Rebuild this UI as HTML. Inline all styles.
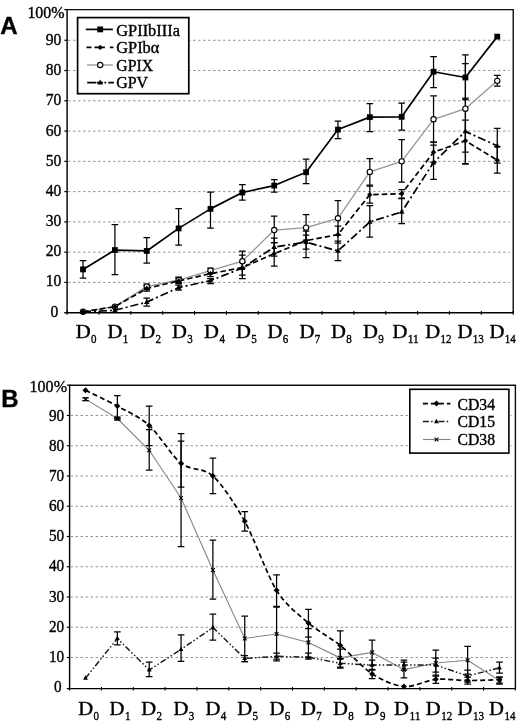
<!DOCTYPE html>
<html><head><meta charset="utf-8"><title>Figure</title>
<style>
html,body{margin:0;padding:0;background:#fff;}
svg{display:block;}
text{stroke:#000;stroke-width:0.38px;}
</style></head>
<body>
<svg width="520" height="723" viewBox="0 0 520 723">
<defs><filter id="soft" x="0" y="0" width="100%" height="100%"><feGaussianBlur stdDeviation="0.32"/></filter></defs>
<rect width="520" height="723" fill="#fff"/>
<g filter="url(#soft)">
<path d="M68.1 282.43H509.5" stroke="#8f8f8f" stroke-width="1" stroke-dasharray="2.4 2.6" fill="none"/>
<path d="M68.1 252.16H509.5" stroke="#8f8f8f" stroke-width="1" stroke-dasharray="2.4 2.6" fill="none"/>
<path d="M68.1 221.89H509.5" stroke="#8f8f8f" stroke-width="1" stroke-dasharray="2.4 2.6" fill="none"/>
<path d="M68.1 191.62H509.5" stroke="#8f8f8f" stroke-width="1" stroke-dasharray="2.4 2.6" fill="none"/>
<path d="M68.1 161.35H509.5" stroke="#8f8f8f" stroke-width="1" stroke-dasharray="2.4 2.6" fill="none"/>
<path d="M68.1 131.08H509.5" stroke="#8f8f8f" stroke-width="1" stroke-dasharray="2.4 2.6" fill="none"/>
<path d="M68.1 100.81H509.5" stroke="#8f8f8f" stroke-width="1" stroke-dasharray="2.4 2.6" fill="none"/>
<path d="M68.1 70.54H509.5" stroke="#8f8f8f" stroke-width="1" stroke-dasharray="2.4 2.6" fill="none"/>
<path d="M68.1 40.27H509.5" stroke="#8f8f8f" stroke-width="1" stroke-dasharray="2.4 2.6" fill="none"/>
<path d="M83.03 311.79L114.9 306.65L146.76 286.67L178.62 280.01L210.49 270.62L242.35 261.24L274.22 230.06L306.08 227.64L337.95 218.26L369.81 171.94L401.68 161.35L433.54 119.27L465.4 108.68L497.27 80.83" stroke="#959595" stroke-width="1.3" fill="none" stroke-linejoin="round"/>
<path d="M83.03 312.09L114.9 310.28L146.76 302.11L178.62 287.58L210.49 280.61L242.35 268.05L274.22 247.01L306.08 242.17L337.95 250.95L369.81 221.89L401.68 211.9L433.54 162.56L465.4 131.38L497.27 145.91" stroke="#000" stroke-width="1.7" stroke-dasharray="8 3 2 3" fill="none" stroke-linejoin="round"/>
<path d="M83.03 311.79L114.9 306.65L146.76 288.48L178.62 280.92L210.49 273.65L242.35 267.6L274.22 253.67L306.08 240.66L337.95 234.6L369.81 194.65L401.68 193.74L433.54 152.27L465.4 140.77L497.27 160.14" stroke="#000" stroke-width="1.7" stroke-dasharray="5.5 3" fill="none" stroke-linejoin="round"/>
<path d="M83.03 269.41L114.9 250.04L146.76 250.95L178.62 228.4L210.49 208.87L242.35 192.53L274.22 185.57L306.08 172.25L337.95 129.57L369.81 117.16L401.68 116.85L433.54 71.75L465.4 77.5L497.27 36.64" stroke="#000" stroke-width="1.7" fill="none" stroke-linejoin="round"/>
<path d="M146.76 284V289.5M143.46 284H150.06M143.46 289.5H150.06" stroke="#000" stroke-width="1.25" fill="none"/>
<path d="M178.62 277V282.5M175.32 277H181.93M175.32 282.5H181.93" stroke="#000" stroke-width="1.25" fill="none"/>
<path d="M210.49 268V273.5M207.19 268H213.79M207.19 273.5H213.79" stroke="#000" stroke-width="1.25" fill="none"/>
<path d="M242.35 255V268M239.05 255H245.65M239.05 268H245.65" stroke="#000" stroke-width="1.25" fill="none"/>
<path d="M274.22 216.2V242.5M270.92 216.2H277.52M270.92 242.5H277.52" stroke="#000" stroke-width="1.25" fill="none"/>
<path d="M306.08 214.5V240M302.78 214.5H309.38M302.78 240H309.38" stroke="#000" stroke-width="1.25" fill="none"/>
<path d="M337.95 200.7V235M334.65 200.7H341.25M334.65 235H341.25" stroke="#000" stroke-width="1.25" fill="none"/>
<path d="M369.81 158.7V185M366.51 158.7H373.11M366.51 185H373.11" stroke="#000" stroke-width="1.25" fill="none"/>
<path d="M401.68 139.5V182M398.38 139.5H404.98M398.38 182H404.98" stroke="#000" stroke-width="1.25" fill="none"/>
<path d="M433.54 95.9V142M430.24 95.9H436.84M430.24 142H436.84" stroke="#000" stroke-width="1.25" fill="none"/>
<path d="M465.4 63.6V152M462.1 63.6H468.7M462.1 152H468.7" stroke="#000" stroke-width="1.25" fill="none"/>
<path d="M497.27 75.3V86M493.97 75.3H500.57M493.97 86H500.57" stroke="#000" stroke-width="1.25" fill="none"/>
<path d="M146.76 298V306M143.46 298H150.06M143.46 306H150.06" stroke="#000" stroke-width="1.25" fill="none"/>
<path d="M178.62 285V290M175.32 285H181.93M175.32 290H181.93" stroke="#000" stroke-width="1.25" fill="none"/>
<path d="M210.49 278.5V283.5M207.19 278.5H213.79M207.19 283.5H213.79" stroke="#000" stroke-width="1.25" fill="none"/>
<path d="M242.35 262V275M239.05 262H245.65M239.05 275H245.65" stroke="#000" stroke-width="1.25" fill="none"/>
<path d="M274.22 238V256M270.92 238H277.52M270.92 256H277.52" stroke="#000" stroke-width="1.25" fill="none"/>
<path d="M306.08 235V249M302.78 235H309.38M302.78 249H309.38" stroke="#000" stroke-width="1.25" fill="none"/>
<path d="M337.95 241.2V260.7M334.65 241.2H341.25M334.65 260.7H341.25" stroke="#000" stroke-width="1.25" fill="none"/>
<path d="M369.81 205.5V237M366.51 205.5H373.11M366.51 237H373.11" stroke="#000" stroke-width="1.25" fill="none"/>
<path d="M401.68 198.7V223.7M398.38 198.7H404.98M398.38 223.7H404.98" stroke="#000" stroke-width="1.25" fill="none"/>
<path d="M433.54 145V179.3M430.24 145H436.84M430.24 179.3H436.84" stroke="#000" stroke-width="1.25" fill="none"/>
<path d="M465.4 98V163.9M462.1 98H468.7M462.1 163.9H468.7" stroke="#000" stroke-width="1.25" fill="none"/>
<path d="M497.27 128.3V163M493.97 128.3H500.57M493.97 163H500.57" stroke="#000" stroke-width="1.25" fill="none"/>
<path d="M146.76 285.5V291M143.46 285.5H150.06M143.46 291H150.06" stroke="#000" stroke-width="1.25" fill="none"/>
<path d="M178.62 278V283.5M175.32 278H181.93M175.32 283.5H181.93" stroke="#000" stroke-width="1.25" fill="none"/>
<path d="M210.49 271V276.5M207.19 271H213.79M207.19 276.5H213.79" stroke="#000" stroke-width="1.25" fill="none"/>
<path d="M242.35 251.2V278.7M239.05 251.2H245.65M239.05 278.7H245.65" stroke="#000" stroke-width="1.25" fill="none"/>
<path d="M274.22 242.5V266.2M270.92 242.5H277.52M270.92 266.2H277.52" stroke="#000" stroke-width="1.25" fill="none"/>
<path d="M306.08 231V257.5M302.78 231H309.38M302.78 257.5H309.38" stroke="#000" stroke-width="1.25" fill="none"/>
<path d="M337.95 226V243M334.65 226H341.25M334.65 243H341.25" stroke="#000" stroke-width="1.25" fill="none"/>
<path d="M369.81 186.2V203M366.51 186.2H373.11M366.51 203H373.11" stroke="#000" stroke-width="1.25" fill="none"/>
<path d="M401.68 189.5V198M398.38 189.5H404.98M398.38 198H404.98" stroke="#000" stroke-width="1.25" fill="none"/>
<path d="M433.54 142V162M430.24 142H436.84M430.24 162H436.84" stroke="#000" stroke-width="1.25" fill="none"/>
<path d="M465.4 120V163.9M462.1 120H468.7M462.1 163.9H468.7" stroke="#000" stroke-width="1.25" fill="none"/>
<path d="M497.27 146.5V173.1M493.97 146.5H500.57M493.97 173.1H500.57" stroke="#000" stroke-width="1.25" fill="none"/>
<path d="M83.03 260.5V278.2M79.73 260.5H86.33M79.73 278.2H86.33" stroke="#000" stroke-width="1.25" fill="none"/>
<path d="M114.9 224.5V274.5M111.6 224.5H118.2M111.6 274.5H118.2" stroke="#000" stroke-width="1.25" fill="none"/>
<path d="M146.76 237.5V263M143.46 237.5H150.06M143.46 263H150.06" stroke="#000" stroke-width="1.25" fill="none"/>
<path d="M178.62 208.7V245M175.32 208.7H181.93M175.32 245H181.93" stroke="#000" stroke-width="1.25" fill="none"/>
<path d="M210.49 192V228M207.19 192H213.79M207.19 228H213.79" stroke="#000" stroke-width="1.25" fill="none"/>
<path d="M242.35 184.5V200M239.05 184.5H245.65M239.05 200H245.65" stroke="#000" stroke-width="1.25" fill="none"/>
<path d="M274.22 179.5V192M270.92 179.5H277.52M270.92 192H277.52" stroke="#000" stroke-width="1.25" fill="none"/>
<path d="M306.08 159V183.7M302.78 159H309.38M302.78 183.7H309.38" stroke="#000" stroke-width="1.25" fill="none"/>
<path d="M337.95 121.2V138.7M334.65 121.2H341.25M334.65 138.7H341.25" stroke="#000" stroke-width="1.25" fill="none"/>
<path d="M369.81 103.7V131.7M366.51 103.7H373.11M366.51 131.7H373.11" stroke="#000" stroke-width="1.25" fill="none"/>
<path d="M401.68 103V130M398.38 103H404.98M398.38 130H404.98" stroke="#000" stroke-width="1.25" fill="none"/>
<path d="M433.54 56.6V87.7M430.24 56.6H436.84M430.24 87.7H436.84" stroke="#000" stroke-width="1.25" fill="none"/>
<path d="M465.4 54.9V99.7M462.1 54.9H468.7M462.1 99.7H468.7" stroke="#000" stroke-width="1.25" fill="none"/>
<circle cx="83.03" cy="311.79" r="2.65" fill="#fff" stroke="#000" stroke-width="1.1"/>
<circle cx="114.9" cy="306.65" r="2.65" fill="#fff" stroke="#000" stroke-width="1.1"/>
<circle cx="146.76" cy="286.67" r="2.65" fill="#fff" stroke="#000" stroke-width="1.1"/>
<circle cx="178.62" cy="280.01" r="2.65" fill="#fff" stroke="#000" stroke-width="1.1"/>
<circle cx="210.49" cy="270.62" r="2.65" fill="#fff" stroke="#000" stroke-width="1.1"/>
<circle cx="242.35" cy="261.24" r="2.65" fill="#fff" stroke="#000" stroke-width="1.1"/>
<circle cx="274.22" cy="230.06" r="2.65" fill="#fff" stroke="#000" stroke-width="1.1"/>
<circle cx="306.08" cy="227.64" r="2.65" fill="#fff" stroke="#000" stroke-width="1.1"/>
<circle cx="337.95" cy="218.26" r="2.65" fill="#fff" stroke="#000" stroke-width="1.1"/>
<circle cx="369.81" cy="171.94" r="2.65" fill="#fff" stroke="#000" stroke-width="1.1"/>
<circle cx="401.68" cy="161.35" r="2.65" fill="#fff" stroke="#000" stroke-width="1.1"/>
<circle cx="433.54" cy="119.27" r="2.65" fill="#fff" stroke="#000" stroke-width="1.1"/>
<circle cx="465.4" cy="108.68" r="2.65" fill="#fff" stroke="#000" stroke-width="1.1"/>
<circle cx="497.27" cy="80.83" r="2.65" fill="#fff" stroke="#000" stroke-width="1.1"/>
<path d="M83.03 308.87L85.83 314H80.23Z" fill="#000"/>
<path d="M114.9 307.06L117.7 312.18H112.1Z" fill="#000"/>
<path d="M146.76 298.89L149.56 304.01H143.96Z" fill="#000"/>
<path d="M178.62 284.36L181.43 289.48H175.82Z" fill="#000"/>
<path d="M210.49 277.39L213.29 282.52H207.69Z" fill="#000"/>
<path d="M242.35 264.83L245.15 269.96H239.55Z" fill="#000"/>
<path d="M274.22 243.79L277.02 248.92H271.42Z" fill="#000"/>
<path d="M306.08 238.95L308.88 244.07H303.28Z" fill="#000"/>
<path d="M337.95 247.73L340.75 252.85H335.15Z" fill="#000"/>
<path d="M369.81 218.67L372.61 223.79H367.01Z" fill="#000"/>
<path d="M401.68 208.68L404.48 213.8H398.88Z" fill="#000"/>
<path d="M433.54 159.34L436.34 164.46H430.74Z" fill="#000"/>
<path d="M465.4 128.16L468.2 133.29H462.6Z" fill="#000"/>
<path d="M497.27 142.69L500.07 147.82H494.47Z" fill="#000"/>
<path d="M83.03 309.09L85.73 311.79L83.03 314.49L80.33 311.79Z" fill="#000"/>
<path d="M114.9 303.95L117.6 306.65L114.9 309.35L112.2 306.65Z" fill="#000"/>
<path d="M146.76 285.78L149.46 288.48L146.76 291.18L144.06 288.48Z" fill="#000"/>
<path d="M178.62 278.22L181.32 280.92L178.62 283.62L175.93 280.92Z" fill="#000"/>
<path d="M210.49 270.95L213.19 273.65L210.49 276.35L207.79 273.65Z" fill="#000"/>
<path d="M242.35 264.9L245.05 267.6L242.35 270.3L239.65 267.6Z" fill="#000"/>
<path d="M274.22 250.97L276.92 253.67L274.22 256.37L271.52 253.67Z" fill="#000"/>
<path d="M306.08 237.96L308.78 240.66L306.08 243.36L303.38 240.66Z" fill="#000"/>
<path d="M337.95 231.9L340.65 234.6L337.95 237.3L335.25 234.6Z" fill="#000"/>
<path d="M369.81 191.95L372.51 194.65L369.81 197.35L367.11 194.65Z" fill="#000"/>
<path d="M401.68 191.04L404.38 193.74L401.68 196.44L398.98 193.74Z" fill="#000"/>
<path d="M433.54 149.57L436.24 152.27L433.54 154.97L430.84 152.27Z" fill="#000"/>
<path d="M465.4 138.07L468.1 140.77L465.4 143.47L462.7 140.77Z" fill="#000"/>
<path d="M497.27 157.44L499.97 160.14L497.27 162.84L494.57 160.14Z" fill="#000"/>
<rect x="80.13" y="266.51" width="5.8" height="5.8" fill="#000"/>
<rect x="112" y="247.14" width="5.8" height="5.8" fill="#000"/>
<rect x="143.86" y="248.05" width="5.8" height="5.8" fill="#000"/>
<rect x="175.72" y="225.5" width="5.8" height="5.8" fill="#000"/>
<rect x="207.59" y="205.97" width="5.8" height="5.8" fill="#000"/>
<rect x="239.45" y="189.63" width="5.8" height="5.8" fill="#000"/>
<rect x="271.32" y="182.67" width="5.8" height="5.8" fill="#000"/>
<rect x="303.18" y="169.35" width="5.8" height="5.8" fill="#000"/>
<rect x="335.05" y="126.67" width="5.8" height="5.8" fill="#000"/>
<rect x="366.91" y="114.26" width="5.8" height="5.8" fill="#000"/>
<rect x="398.78" y="113.95" width="5.8" height="5.8" fill="#000"/>
<rect x="430.64" y="68.85" width="5.8" height="5.8" fill="#000"/>
<rect x="462.5" y="74.6" width="5.8" height="5.8" fill="#000"/>
<rect x="494.37" y="33.74" width="5.8" height="5.8" fill="#000"/>
<path d="M67.1 9.6H513.2V312.7" stroke="#111" stroke-width="1.4" fill="none"/>
<path d="M67.1 9V313.4" stroke="#000" stroke-width="1.45" fill="none"/>
<path d="M64.3 312.7H513.8" stroke="#000" stroke-width="1.4" fill="none"/>
<path d="M64.3 282.43H67.1" stroke="#000" stroke-width="1.2"/>
<path d="M64.3 252.16H67.1" stroke="#000" stroke-width="1.2"/>
<path d="M64.3 221.89H67.1" stroke="#000" stroke-width="1.2"/>
<path d="M64.3 191.62H67.1" stroke="#000" stroke-width="1.2"/>
<path d="M64.3 161.35H67.1" stroke="#000" stroke-width="1.2"/>
<path d="M64.3 131.08H67.1" stroke="#000" stroke-width="1.2"/>
<path d="M64.3 100.81H67.1" stroke="#000" stroke-width="1.2"/>
<path d="M64.3 70.54H67.1" stroke="#000" stroke-width="1.2"/>
<path d="M64.3 40.27H67.1" stroke="#000" stroke-width="1.2"/>
<path d="M64.3 9.6H67.1" stroke="#000" stroke-width="1.2"/>
<path d="M67.1 311.1V314.7" stroke="#000" stroke-width="1.1"/>
<path d="M98.96 311.1V314.7" stroke="#000" stroke-width="1.1"/>
<path d="M130.83 311.1V314.7" stroke="#000" stroke-width="1.1"/>
<path d="M162.69 311.1V314.7" stroke="#000" stroke-width="1.1"/>
<path d="M194.56 311.1V314.7" stroke="#000" stroke-width="1.1"/>
<path d="M226.42 311.1V314.7" stroke="#000" stroke-width="1.1"/>
<path d="M258.29 311.1V314.7" stroke="#000" stroke-width="1.1"/>
<path d="M290.15 311.1V314.7" stroke="#000" stroke-width="1.1"/>
<path d="M322.01 311.1V314.7" stroke="#000" stroke-width="1.1"/>
<path d="M353.88 311.1V314.7" stroke="#000" stroke-width="1.1"/>
<path d="M385.74 311.1V314.7" stroke="#000" stroke-width="1.1"/>
<path d="M417.61 311.1V314.7" stroke="#000" stroke-width="1.1"/>
<path d="M449.47 311.1V314.7" stroke="#000" stroke-width="1.1"/>
<path d="M481.34 311.1V314.7" stroke="#000" stroke-width="1.1"/>
<path d="M513.2 311.1V314.7" stroke="#000" stroke-width="1.1"/>
<rect x="77.6" y="17.6" width="111.2" height="76.1" fill="#fff" stroke="#000" stroke-width="1.7"/>
<path d="M85.8 29.4H112.9" stroke="#000" stroke-width="1.7" fill="none"/>
<rect x="97.3" y="26.5" width="5.8" height="5.8" fill="#000"/>
<text x="116.3" y="35.5" font-family='"Liberation Serif", serif' font-size="16" textLength="63.6" lengthAdjust="spacingAndGlyphs">GPIIbIIIa</text>
<path d="M86.5 47.4H91.5M94.4 47.4H104.9M109.9 47.4H113.4" stroke="#000" stroke-width="1.7" fill="none"/>
<path d="M100.2 44.7L102.9 47.4L100.2 50.1L97.5 47.4Z" fill="#000"/>
<text x="116.3" y="53.2" font-family='"Liberation Serif", serif' font-size="16" textLength="43" lengthAdjust="spacingAndGlyphs">GPIbα</text>
<path d="M87 65.0H112.9" stroke="#959595" stroke-width="1.3" fill="none"/>
<circle cx="100.2" cy="65" r="2.65" fill="#fff" stroke="#000" stroke-width="1.1"/>
<text x="116.3" y="70.8" font-family='"Liberation Serif", serif' font-size="16" textLength="36.8" lengthAdjust="spacingAndGlyphs">GPIX</text>
<path d="M87.2 82.6H96.4M97 82.6H103M104.4 82.6H106.1M108.4 82.6H113.9" stroke="#000" stroke-width="1.7" fill="none"/>
<path d="M100.2 79.38L103 84.5H97.4Z" fill="#000"/>
<text x="116.3" y="88" font-family='"Liberation Serif", serif' font-size="16" textLength="31.8" lengthAdjust="spacingAndGlyphs">GPV</text>
<text x="58.2" y="316.54" text-anchor="end" font-family='"Liberation Serif", serif' font-size="16.5" textLength="7.8" lengthAdjust="spacingAndGlyphs">0</text>
<text x="61.3" y="286.38" text-anchor="end" font-family='"Liberation Serif", serif' font-size="16.5" textLength="15.6" lengthAdjust="spacingAndGlyphs">10</text>
<text x="61.3" y="256.22" text-anchor="end" font-family='"Liberation Serif", serif' font-size="16.5" textLength="15.6" lengthAdjust="spacingAndGlyphs">20</text>
<text x="61.3" y="226.06" text-anchor="end" font-family='"Liberation Serif", serif' font-size="16.5" textLength="15.6" lengthAdjust="spacingAndGlyphs">30</text>
<text x="61.3" y="195.9" text-anchor="end" font-family='"Liberation Serif", serif' font-size="16.5" textLength="15.6" lengthAdjust="spacingAndGlyphs">40</text>
<text x="61.3" y="165.74" text-anchor="end" font-family='"Liberation Serif", serif' font-size="16.5" textLength="15.6" lengthAdjust="spacingAndGlyphs">50</text>
<text x="61.3" y="135.58" text-anchor="end" font-family='"Liberation Serif", serif' font-size="16.5" textLength="15.6" lengthAdjust="spacingAndGlyphs">60</text>
<text x="61.3" y="105.42" text-anchor="end" font-family='"Liberation Serif", serif' font-size="16.5" textLength="15.6" lengthAdjust="spacingAndGlyphs">70</text>
<text x="61.3" y="75.26" text-anchor="end" font-family='"Liberation Serif", serif' font-size="16.5" textLength="15.6" lengthAdjust="spacingAndGlyphs">80</text>
<text x="61.3" y="45.1" text-anchor="end" font-family='"Liberation Serif", serif' font-size="16.5" textLength="15.6" lengthAdjust="spacingAndGlyphs">90</text>
<text x="64.6" y="18.1" text-anchor="end" font-family='"Liberation Serif", serif' font-size="16.5" textLength="37.2" lengthAdjust="spacingAndGlyphs">100%</text>
<text x="75.75" y="338.3" font-family='"Liberation Serif", serif' font-size="18.5" textLength="14.9" lengthAdjust="spacingAndGlyphs">D</text>
<text x="91.05" y="343.2" font-family='"Liberation Serif", serif' font-size="12.6" textLength="5.5" lengthAdjust="spacingAndGlyphs">0</text>
<text x="107.5" y="338.3" font-family='"Liberation Serif", serif' font-size="18.5" textLength="14.9" lengthAdjust="spacingAndGlyphs">D</text>
<text x="122.8" y="343.2" font-family='"Liberation Serif", serif' font-size="12.6" textLength="5.5" lengthAdjust="spacingAndGlyphs">1</text>
<text x="140.25" y="338.3" font-family='"Liberation Serif", serif' font-size="18.5" textLength="14.9" lengthAdjust="spacingAndGlyphs">D</text>
<text x="155.55" y="343.2" font-family='"Liberation Serif", serif' font-size="12.6" textLength="5.5" lengthAdjust="spacingAndGlyphs">2</text>
<text x="172" y="338.3" font-family='"Liberation Serif", serif' font-size="18.5" textLength="14.9" lengthAdjust="spacingAndGlyphs">D</text>
<text x="187.3" y="343.2" font-family='"Liberation Serif", serif' font-size="12.6" textLength="5.5" lengthAdjust="spacingAndGlyphs">3</text>
<text x="204.1" y="338.3" font-family='"Liberation Serif", serif' font-size="18.5" textLength="14.9" lengthAdjust="spacingAndGlyphs">D</text>
<text x="219.4" y="343.2" font-family='"Liberation Serif", serif' font-size="12.6" textLength="5.5" lengthAdjust="spacingAndGlyphs">4</text>
<text x="236" y="338.3" font-family='"Liberation Serif", serif' font-size="18.5" textLength="14.9" lengthAdjust="spacingAndGlyphs">D</text>
<text x="251.3" y="343.2" font-family='"Liberation Serif", serif' font-size="12.6" textLength="5.5" lengthAdjust="spacingAndGlyphs">5</text>
<text x="267.5" y="338.3" font-family='"Liberation Serif", serif' font-size="18.5" textLength="14.9" lengthAdjust="spacingAndGlyphs">D</text>
<text x="282.8" y="343.2" font-family='"Liberation Serif", serif' font-size="12.6" textLength="5.5" lengthAdjust="spacingAndGlyphs">6</text>
<text x="299.5" y="338.3" font-family='"Liberation Serif", serif' font-size="18.5" textLength="14.9" lengthAdjust="spacingAndGlyphs">D</text>
<text x="314.8" y="343.2" font-family='"Liberation Serif", serif' font-size="12.6" textLength="5.5" lengthAdjust="spacingAndGlyphs">7</text>
<text x="331" y="338.3" font-family='"Liberation Serif", serif' font-size="18.5" textLength="14.9" lengthAdjust="spacingAndGlyphs">D</text>
<text x="346.3" y="343.2" font-family='"Liberation Serif", serif' font-size="12.6" textLength="5.5" lengthAdjust="spacingAndGlyphs">8</text>
<text x="363" y="338.3" font-family='"Liberation Serif", serif' font-size="18.5" textLength="14.9" lengthAdjust="spacingAndGlyphs">D</text>
<text x="378.3" y="343.2" font-family='"Liberation Serif", serif' font-size="12.6" textLength="5.5" lengthAdjust="spacingAndGlyphs">9</text>
<text x="392.5" y="338.3" font-family='"Liberation Serif", serif' font-size="18.5" textLength="14.9" lengthAdjust="spacingAndGlyphs">D</text>
<text x="407.8" y="343.2" font-family='"Liberation Serif", serif' font-size="12.6" textLength="11.0" lengthAdjust="spacingAndGlyphs">11</text>
<text x="425.25" y="338.3" font-family='"Liberation Serif", serif' font-size="18.5" textLength="14.9" lengthAdjust="spacingAndGlyphs">D</text>
<text x="440.55" y="343.2" font-family='"Liberation Serif", serif' font-size="12.6" textLength="11.0" lengthAdjust="spacingAndGlyphs">12</text>
<text x="457.5" y="338.3" font-family='"Liberation Serif", serif' font-size="18.5" textLength="14.9" lengthAdjust="spacingAndGlyphs">D</text>
<text x="472.8" y="343.2" font-family='"Liberation Serif", serif' font-size="12.6" textLength="11.0" lengthAdjust="spacingAndGlyphs">13</text>
<text x="489.5" y="338.3" font-family='"Liberation Serif", serif' font-size="18.5" textLength="14.9" lengthAdjust="spacingAndGlyphs">D</text>
<text x="504.8" y="343.2" font-family='"Liberation Serif", serif' font-size="12.6" textLength="11.0" lengthAdjust="spacingAndGlyphs">14</text>
<text x="0.3" y="33.7" font-family='"Liberation Sans", sans-serif' font-weight="bold" font-size="24">A</text>
<path d="M70.6 657.54H511.6" stroke="#8f8f8f" stroke-width="1" stroke-dasharray="2.4 2.6" fill="none"/>
<path d="M70.6 627.28H511.6" stroke="#8f8f8f" stroke-width="1" stroke-dasharray="2.4 2.6" fill="none"/>
<path d="M70.6 597.02H511.6" stroke="#8f8f8f" stroke-width="1" stroke-dasharray="2.4 2.6" fill="none"/>
<path d="M70.6 566.76H511.6" stroke="#8f8f8f" stroke-width="1" stroke-dasharray="2.4 2.6" fill="none"/>
<path d="M70.6 536.5H511.6" stroke="#8f8f8f" stroke-width="1" stroke-dasharray="2.4 2.6" fill="none"/>
<path d="M70.6 506.24H511.6" stroke="#8f8f8f" stroke-width="1" stroke-dasharray="2.4 2.6" fill="none"/>
<path d="M70.6 475.98H511.6" stroke="#8f8f8f" stroke-width="1" stroke-dasharray="2.4 2.6" fill="none"/>
<path d="M70.6 445.72H511.6" stroke="#8f8f8f" stroke-width="1" stroke-dasharray="2.4 2.6" fill="none"/>
<path d="M70.6 415.46H511.6" stroke="#8f8f8f" stroke-width="1" stroke-dasharray="2.4 2.6" fill="none"/>
<path d="M85.52 399.12L117.36 418.49L149.21 450.26L181.05 498.07L212.89 570.09L244.74 638.48L276.58 633.94L308.42 642.41L340.26 657.84L372.11 652.4L403.95 669.64L435.79 662.99L467.64 660.26L499.48 680.54" stroke="#858585" stroke-width="1.1" fill="none"/>
<path d="M85.52 678.12L117.36 638.48L149.21 669.95L181.05 649.37L212.89 627.58L244.74 658.45L276.58 656.33L308.42 657.24L340.26 663.29L372.11 665.1L403.95 665.1L435.79 665.1L467.64 676L499.48 667.83" stroke="#1c1c1c" stroke-width="1.5" stroke-dasharray="6 2.2 1.5 2.2 1.5 2.2" fill="none"/>
<path d="M85.52 390.34C90.3 392.7 107.81 400.81 117.36 406.08C126.92 411.34 139.65 416.87 149.21 425.45C158.76 434.02 171.5 455.69 181.05 463.27C190.6 470.85 203.34 467.27 212.89 475.98C222.45 484.69 235.18 504.21 244.74 521.37C254.29 538.53 267.03 575.11 276.58 590.36C286.13 605.61 298.87 614.78 308.42 623.04C317.97 631.3 330.71 637.81 340.26 645.44C349.82 653.06 362.55 667.71 372.11 673.88C381.66 680.05 394.4 685.77 403.95 686.59C413.5 687.41 426.24 680.23 435.79 679.33C445.35 678.42 458.08 680.49 467.64 680.54C477.19 680.58 494.7 679.77 499.48 679.63" stroke="#000" stroke-width="1.7" stroke-dasharray="5 3" fill="none"/>
<path d="M85.52 397.8V400.6M82.22 397.8H88.82M82.22 400.6H88.82" stroke="#000" stroke-width="1.25" fill="none"/>
<path d="M117.36 417V420M114.06 417H120.66M114.06 420H120.66" stroke="#000" stroke-width="1.25" fill="none"/>
<path d="M149.21 429.5V470M145.91 429.5H152.51M145.91 470H152.51" stroke="#000" stroke-width="1.25" fill="none"/>
<path d="M181.05 441.2V546.5M177.75 441.2H184.35M177.75 546.5H184.35" stroke="#000" stroke-width="1.25" fill="none"/>
<path d="M212.89 540V599.2M209.59 540H216.19M209.59 599.2H216.19" stroke="#000" stroke-width="1.25" fill="none"/>
<path d="M244.74 616.2V661.7M241.44 616.2H248.04M241.44 661.7H248.04" stroke="#000" stroke-width="1.25" fill="none"/>
<path d="M276.58 606.3V659.2M273.28 606.3H279.88M273.28 659.2H279.88" stroke="#000" stroke-width="1.25" fill="none"/>
<path d="M308.42 628.5V657M305.12 628.5H311.72M305.12 657H311.72" stroke="#000" stroke-width="1.25" fill="none"/>
<path d="M340.26 649V667M336.96 649H343.56M336.96 667H343.56" stroke="#000" stroke-width="1.25" fill="none"/>
<path d="M372.11 640.2V665M368.81 640.2H375.41M368.81 665H375.41" stroke="#000" stroke-width="1.25" fill="none"/>
<path d="M403.95 662.1V677.8M400.65 662.1H407.25M400.65 677.8H407.25" stroke="#000" stroke-width="1.25" fill="none"/>
<path d="M435.79 650V676M432.49 650H439.09M432.49 676H439.09" stroke="#000" stroke-width="1.25" fill="none"/>
<path d="M467.64 646.4V674M464.34 646.4H470.94M464.34 674H470.94" stroke="#000" stroke-width="1.25" fill="none"/>
<path d="M499.48 677V684M496.18 677H502.78M496.18 684H502.78" stroke="#000" stroke-width="1.25" fill="none"/>
<path d="M117.36 631.9V644.9M114.06 631.9H120.66M114.06 644.9H120.66" stroke="#000" stroke-width="1.25" fill="none"/>
<path d="M149.21 662.2V676.6M145.91 662.2H152.51M145.91 676.6H152.51" stroke="#000" stroke-width="1.25" fill="none"/>
<path d="M181.05 634.8V661.3M177.75 634.8H184.35M177.75 661.3H184.35" stroke="#000" stroke-width="1.25" fill="none"/>
<path d="M212.89 614V640.2M209.59 614H216.19M209.59 640.2H216.19" stroke="#000" stroke-width="1.25" fill="none"/>
<path d="M244.74 655.5V661.7M241.44 655.5H248.04M241.44 661.7H248.04" stroke="#000" stroke-width="1.25" fill="none"/>
<path d="M276.58 653V660.8M273.28 653H279.88M273.28 660.8H279.88" stroke="#000" stroke-width="1.25" fill="none"/>
<path d="M308.42 653V659M305.12 653H311.72M305.12 659H311.72" stroke="#000" stroke-width="1.25" fill="none"/>
<path d="M340.26 659V668.2M336.96 659H343.56M336.96 668.2H343.56" stroke="#000" stroke-width="1.25" fill="none"/>
<path d="M372.11 660V670M368.81 660H375.41M368.81 670H375.41" stroke="#000" stroke-width="1.25" fill="none"/>
<path d="M403.95 660V670M400.65 660H407.25M400.65 670H407.25" stroke="#000" stroke-width="1.25" fill="none"/>
<path d="M435.79 658V672M432.49 658H439.09M432.49 672H439.09" stroke="#000" stroke-width="1.25" fill="none"/>
<path d="M467.64 670V682M464.34 670H470.94M464.34 682H470.94" stroke="#000" stroke-width="1.25" fill="none"/>
<path d="M499.48 662.1V673M496.18 662.1H502.78M496.18 673H502.78" stroke="#000" stroke-width="1.25" fill="none"/>
<path d="M117.36 395.5V418.7M114.06 395.5H120.66M114.06 418.7H120.66" stroke="#000" stroke-width="1.25" fill="none"/>
<path d="M149.21 406.2V445.5M145.91 406.2H152.51M145.91 445.5H152.51" stroke="#000" stroke-width="1.25" fill="none"/>
<path d="M181.05 433.7V487.2M177.75 433.7H184.35M177.75 487.2H184.35" stroke="#000" stroke-width="1.25" fill="none"/>
<path d="M212.89 458V493.7M209.59 458H216.19M209.59 493.7H216.19" stroke="#000" stroke-width="1.25" fill="none"/>
<path d="M244.74 511.7V531.2M241.44 511.7H248.04M241.44 531.2H248.04" stroke="#000" stroke-width="1.25" fill="none"/>
<path d="M276.58 574.8V607M273.28 574.8H279.88M273.28 607H279.88" stroke="#000" stroke-width="1.25" fill="none"/>
<path d="M308.42 609.4V637M305.12 609.4H311.72M305.12 637H311.72" stroke="#000" stroke-width="1.25" fill="none"/>
<path d="M340.26 630.8V658.7M336.96 630.8H343.56M336.96 658.7H343.56" stroke="#000" stroke-width="1.25" fill="none"/>
<path d="M372.11 669.4V678.6M368.81 669.4H375.41M368.81 678.6H375.41" stroke="#000" stroke-width="1.25" fill="none"/>
<path d="M435.79 675V683.3M432.49 675H439.09M432.49 683.3H439.09" stroke="#000" stroke-width="1.25" fill="none"/>
<path d="M467.64 677V684M464.34 677H470.94M464.34 684H470.94" stroke="#000" stroke-width="1.25" fill="none"/>
<path d="M499.48 677V683M496.18 677H502.78M496.18 683H502.78" stroke="#000" stroke-width="1.25" fill="none"/>
<path d="M83.62 397.22L87.42 401.02M83.62 401.02L87.42 397.22" stroke="#000" stroke-width="1.1" fill="none"/>
<path d="M115.46 416.59L119.26 420.39M115.46 420.39L119.26 416.59" stroke="#000" stroke-width="1.1" fill="none"/>
<path d="M147.31 448.36L151.11 452.16M147.31 452.16L151.11 448.36" stroke="#000" stroke-width="1.1" fill="none"/>
<path d="M179.15 496.17L182.95 499.97M179.15 499.97L182.95 496.17" stroke="#000" stroke-width="1.1" fill="none"/>
<path d="M210.99 568.19L214.79 571.99M210.99 571.99L214.79 568.19" stroke="#000" stroke-width="1.1" fill="none"/>
<path d="M242.84 636.58L246.64 640.38M242.84 640.38L246.64 636.58" stroke="#000" stroke-width="1.1" fill="none"/>
<path d="M274.68 632.04L278.48 635.84M274.68 635.84L278.48 632.04" stroke="#000" stroke-width="1.1" fill="none"/>
<path d="M306.52 640.51L310.32 644.31M306.52 644.31L310.32 640.51" stroke="#000" stroke-width="1.1" fill="none"/>
<path d="M338.36 655.94L342.16 659.74M338.36 659.74L342.16 655.94" stroke="#000" stroke-width="1.1" fill="none"/>
<path d="M370.21 650.5L374.01 654.3M370.21 654.3L374.01 650.5" stroke="#000" stroke-width="1.1" fill="none"/>
<path d="M402.05 667.74L405.85 671.54M402.05 671.54L405.85 667.74" stroke="#000" stroke-width="1.1" fill="none"/>
<path d="M433.89 661.09L437.69 664.89M433.89 664.89L437.69 661.09" stroke="#000" stroke-width="1.1" fill="none"/>
<path d="M465.74 658.36L469.54 662.16M465.74 662.16L469.54 658.36" stroke="#000" stroke-width="1.1" fill="none"/>
<path d="M497.58 678.64L501.38 682.44M497.58 682.44L501.38 678.64" stroke="#000" stroke-width="1.1" fill="none"/>
<path d="M85.52 675.36L87.92 679.75H83.12Z" fill="#000"/>
<path d="M117.36 635.72L119.76 640.11H114.96Z" fill="#000"/>
<path d="M149.21 667.19L151.61 671.58H146.81Z" fill="#000"/>
<path d="M181.05 646.61L183.45 651H178.65Z" fill="#000"/>
<path d="M212.89 624.82L215.29 629.21H210.49Z" fill="#000"/>
<path d="M244.74 655.69L247.14 660.08H242.34Z" fill="#000"/>
<path d="M276.58 653.57L278.98 657.96H274.18Z" fill="#000"/>
<path d="M308.42 654.48L310.82 658.87H306.02Z" fill="#000"/>
<path d="M340.26 660.53L342.66 664.92H337.86Z" fill="#000"/>
<path d="M372.11 662.34L374.51 666.74H369.71Z" fill="#000"/>
<path d="M403.95 662.34L406.35 666.74H401.55Z" fill="#000"/>
<path d="M435.79 662.34L438.19 666.74H433.39Z" fill="#000"/>
<path d="M467.64 673.24L470.04 677.63H465.24Z" fill="#000"/>
<path d="M499.48 665.07L501.88 669.46H497.08Z" fill="#000"/>
<path d="M85.52 387.34L88.52 390.34L85.52 393.34L82.52 390.34Z" fill="#000"/>
<path d="M117.36 403.08L120.36 406.08L117.36 409.08L114.36 406.08Z" fill="#000"/>
<path d="M149.21 422.45L152.21 425.45L149.21 428.45L146.21 425.45Z" fill="#000"/>
<path d="M181.05 460.27L184.05 463.27L181.05 466.27L178.05 463.27Z" fill="#000"/>
<path d="M212.89 472.98L215.89 475.98L212.89 478.98L209.89 475.98Z" fill="#000"/>
<path d="M244.74 518.37L247.74 521.37L244.74 524.37L241.74 521.37Z" fill="#000"/>
<path d="M276.58 587.36L279.58 590.36L276.58 593.36L273.58 590.36Z" fill="#000"/>
<path d="M308.42 620.04L311.42 623.04L308.42 626.04L305.42 623.04Z" fill="#000"/>
<path d="M340.26 642.44L343.26 645.44L340.26 648.44L337.26 645.44Z" fill="#000"/>
<path d="M372.11 670.88L375.11 673.88L372.11 676.88L369.11 673.88Z" fill="#000"/>
<path d="M403.95 683.59L406.95 686.59L403.95 689.59L400.95 686.59Z" fill="#000"/>
<path d="M435.79 676.33L438.79 679.33L435.79 682.33L432.79 679.33Z" fill="#000"/>
<path d="M467.64 677.54L470.64 680.54L467.64 683.54L464.64 680.54Z" fill="#000"/>
<path d="M499.48 676.63L502.48 679.63L499.48 682.63L496.48 679.63Z" fill="#000"/>
<path d="M69.6 385.2H515.4V688.6" stroke="#111" stroke-width="1.4" fill="none"/>
<path d="M69.6 384.6V689.3" stroke="#000" stroke-width="1.45" fill="none"/>
<path d="M66.8 688.6H516" stroke="#000" stroke-width="1.4" fill="none"/>
<path d="M66.8 657.54H69.6" stroke="#000" stroke-width="1.2"/>
<path d="M66.8 627.28H69.6" stroke="#000" stroke-width="1.2"/>
<path d="M66.8 597.02H69.6" stroke="#000" stroke-width="1.2"/>
<path d="M66.8 566.76H69.6" stroke="#000" stroke-width="1.2"/>
<path d="M66.8 536.5H69.6" stroke="#000" stroke-width="1.2"/>
<path d="M66.8 506.24H69.6" stroke="#000" stroke-width="1.2"/>
<path d="M66.8 475.98H69.6" stroke="#000" stroke-width="1.2"/>
<path d="M66.8 445.72H69.6" stroke="#000" stroke-width="1.2"/>
<path d="M66.8 415.46H69.6" stroke="#000" stroke-width="1.2"/>
<path d="M66.8 385.2H69.6" stroke="#000" stroke-width="1.2"/>
<path d="M69.6 687V690.6" stroke="#000" stroke-width="1.1"/>
<path d="M101.44 687V690.6" stroke="#000" stroke-width="1.1"/>
<path d="M133.29 687V690.6" stroke="#000" stroke-width="1.1"/>
<path d="M165.13 687V690.6" stroke="#000" stroke-width="1.1"/>
<path d="M196.97 687V690.6" stroke="#000" stroke-width="1.1"/>
<path d="M228.81 687V690.6" stroke="#000" stroke-width="1.1"/>
<path d="M260.66 687V690.6" stroke="#000" stroke-width="1.1"/>
<path d="M292.5 687V690.6" stroke="#000" stroke-width="1.1"/>
<path d="M324.34 687V690.6" stroke="#000" stroke-width="1.1"/>
<path d="M356.19 687V690.6" stroke="#000" stroke-width="1.1"/>
<path d="M388.03 687V690.6" stroke="#000" stroke-width="1.1"/>
<path d="M419.87 687V690.6" stroke="#000" stroke-width="1.1"/>
<path d="M451.71 687V690.6" stroke="#000" stroke-width="1.1"/>
<path d="M483.56 687V690.6" stroke="#000" stroke-width="1.1"/>
<path d="M515.4 687V690.6" stroke="#000" stroke-width="1.1"/>
<rect x="409.8" y="389.3" width="99.1" height="63.8" fill="#fff" stroke="#000" stroke-width="1.6"/>
<path d="M422.9 403.6H450.4" stroke="#000" stroke-width="1.7" stroke-dasharray="5 3" fill="none"/>
<path d="M436.5 400.6L439.5 403.6L436.5 406.6L433.5 403.6Z" fill="#000"/>
<text x="457.5" y="409.5" font-family='"Liberation Serif", serif' font-size="16" textLength="37.5" lengthAdjust="spacingAndGlyphs">CD34</text>
<path d="M422.9 421.6H450.4" stroke="#1c1c1c" stroke-width="1.5" stroke-dasharray="6 2.2 1.5 2.2 1.5 2.2" fill="none"/>
<path d="M436.5 418.84L438.9 423.23H434.1Z" fill="#000"/>
<text x="457.5" y="426.8" font-family='"Liberation Serif", serif' font-size="16" textLength="37.5" lengthAdjust="spacingAndGlyphs">CD15</text>
<path d="M422.9 439.5H450.4" stroke="#858585" stroke-width="1.1" fill="none"/>
<path d="M434.6 437.6L438.4 441.4M434.6 441.4L438.4 437.6" stroke="#000" stroke-width="1.1" fill="none"/>
<text x="457.5" y="444.6" font-family='"Liberation Serif", serif' font-size="16" textLength="37.5" lengthAdjust="spacingAndGlyphs">CD38</text>
<text x="61.6" y="691.89" text-anchor="end" font-family='"Liberation Serif", serif' font-size="16.5" textLength="7.6" lengthAdjust="spacingAndGlyphs">0</text>
<text x="64.1" y="661.78" text-anchor="end" font-family='"Liberation Serif", serif' font-size="16.5" textLength="15.2" lengthAdjust="spacingAndGlyphs">10</text>
<text x="64.1" y="631.67" text-anchor="end" font-family='"Liberation Serif", serif' font-size="16.5" textLength="15.2" lengthAdjust="spacingAndGlyphs">20</text>
<text x="64.1" y="601.56" text-anchor="end" font-family='"Liberation Serif", serif' font-size="16.5" textLength="15.2" lengthAdjust="spacingAndGlyphs">30</text>
<text x="64.1" y="571.45" text-anchor="end" font-family='"Liberation Serif", serif' font-size="16.5" textLength="15.2" lengthAdjust="spacingAndGlyphs">40</text>
<text x="64.1" y="541.34" text-anchor="end" font-family='"Liberation Serif", serif' font-size="16.5" textLength="15.2" lengthAdjust="spacingAndGlyphs">50</text>
<text x="64.1" y="511.23" text-anchor="end" font-family='"Liberation Serif", serif' font-size="16.5" textLength="15.2" lengthAdjust="spacingAndGlyphs">60</text>
<text x="64.1" y="481.12" text-anchor="end" font-family='"Liberation Serif", serif' font-size="16.5" textLength="15.2" lengthAdjust="spacingAndGlyphs">70</text>
<text x="64.1" y="451.01" text-anchor="end" font-family='"Liberation Serif", serif' font-size="16.5" textLength="15.2" lengthAdjust="spacingAndGlyphs">80</text>
<text x="64.1" y="420.9" text-anchor="end" font-family='"Liberation Serif", serif' font-size="16.5" textLength="15.2" lengthAdjust="spacingAndGlyphs">90</text>
<text x="67" y="392.3" text-anchor="end" font-family='"Liberation Serif", serif' font-size="16.5" textLength="37.4" lengthAdjust="spacingAndGlyphs">100%</text>
<text x="78.3" y="714.8" font-family='"Liberation Serif", serif' font-size="18.5" textLength="14.9" lengthAdjust="spacingAndGlyphs">D</text>
<text x="93.6" y="719.8" font-family='"Liberation Serif", serif' font-size="12.6" textLength="5.5" lengthAdjust="spacingAndGlyphs">0</text>
<text x="109.6" y="714.8" font-family='"Liberation Serif", serif' font-size="18.5" textLength="14.9" lengthAdjust="spacingAndGlyphs">D</text>
<text x="124.9" y="719.8" font-family='"Liberation Serif", serif' font-size="12.6" textLength="5.5" lengthAdjust="spacingAndGlyphs">1</text>
<text x="141.2" y="714.8" font-family='"Liberation Serif", serif' font-size="18.5" textLength="14.9" lengthAdjust="spacingAndGlyphs">D</text>
<text x="156.5" y="719.8" font-family='"Liberation Serif", serif' font-size="12.6" textLength="5.5" lengthAdjust="spacingAndGlyphs">2</text>
<text x="173.4" y="714.8" font-family='"Liberation Serif", serif' font-size="18.5" textLength="14.9" lengthAdjust="spacingAndGlyphs">D</text>
<text x="188.7" y="719.8" font-family='"Liberation Serif", serif' font-size="12.6" textLength="5.5" lengthAdjust="spacingAndGlyphs">3</text>
<text x="205.4" y="714.8" font-family='"Liberation Serif", serif' font-size="18.5" textLength="14.9" lengthAdjust="spacingAndGlyphs">D</text>
<text x="220.7" y="719.8" font-family='"Liberation Serif", serif' font-size="12.6" textLength="5.5" lengthAdjust="spacingAndGlyphs">4</text>
<text x="237.3" y="714.8" font-family='"Liberation Serif", serif' font-size="18.5" textLength="14.9" lengthAdjust="spacingAndGlyphs">D</text>
<text x="252.6" y="719.8" font-family='"Liberation Serif", serif' font-size="12.6" textLength="5.5" lengthAdjust="spacingAndGlyphs">5</text>
<text x="269.4" y="714.8" font-family='"Liberation Serif", serif' font-size="18.5" textLength="14.9" lengthAdjust="spacingAndGlyphs">D</text>
<text x="284.7" y="719.8" font-family='"Liberation Serif", serif' font-size="12.6" textLength="5.5" lengthAdjust="spacingAndGlyphs">6</text>
<text x="300.9" y="714.8" font-family='"Liberation Serif", serif' font-size="18.5" textLength="14.9" lengthAdjust="spacingAndGlyphs">D</text>
<text x="316.2" y="719.8" font-family='"Liberation Serif", serif' font-size="12.6" textLength="5.5" lengthAdjust="spacingAndGlyphs">7</text>
<text x="332.9" y="714.8" font-family='"Liberation Serif", serif' font-size="18.5" textLength="14.9" lengthAdjust="spacingAndGlyphs">D</text>
<text x="348.2" y="719.8" font-family='"Liberation Serif", serif' font-size="12.6" textLength="5.5" lengthAdjust="spacingAndGlyphs">8</text>
<text x="364.6" y="714.8" font-family='"Liberation Serif", serif' font-size="18.5" textLength="14.9" lengthAdjust="spacingAndGlyphs">D</text>
<text x="379.9" y="719.8" font-family='"Liberation Serif", serif' font-size="12.6" textLength="5.5" lengthAdjust="spacingAndGlyphs">9</text>
<text x="394.1" y="714.8" font-family='"Liberation Serif", serif' font-size="18.5" textLength="14.9" lengthAdjust="spacingAndGlyphs">D</text>
<text x="409.4" y="719.8" font-family='"Liberation Serif", serif' font-size="12.6" textLength="11.0" lengthAdjust="spacingAndGlyphs">11</text>
<text x="425.85" y="714.8" font-family='"Liberation Serif", serif' font-size="18.5" textLength="14.9" lengthAdjust="spacingAndGlyphs">D</text>
<text x="441.15" y="719.8" font-family='"Liberation Serif", serif' font-size="12.6" textLength="11.0" lengthAdjust="spacingAndGlyphs">12</text>
<text x="457.6" y="714.8" font-family='"Liberation Serif", serif' font-size="18.5" textLength="14.9" lengthAdjust="spacingAndGlyphs">D</text>
<text x="472.9" y="719.8" font-family='"Liberation Serif", serif' font-size="12.6" textLength="11.0" lengthAdjust="spacingAndGlyphs">13</text>
<text x="489.1" y="714.8" font-family='"Liberation Serif", serif' font-size="18.5" textLength="14.9" lengthAdjust="spacingAndGlyphs">D</text>
<text x="504.4" y="719.8" font-family='"Liberation Serif", serif' font-size="12.6" textLength="11.0" lengthAdjust="spacingAndGlyphs">14</text>
<text x="1.2" y="406.6" font-family='"Liberation Sans", sans-serif' font-weight="bold" font-size="24">B</text>
</g>
</svg>
</body></html>
